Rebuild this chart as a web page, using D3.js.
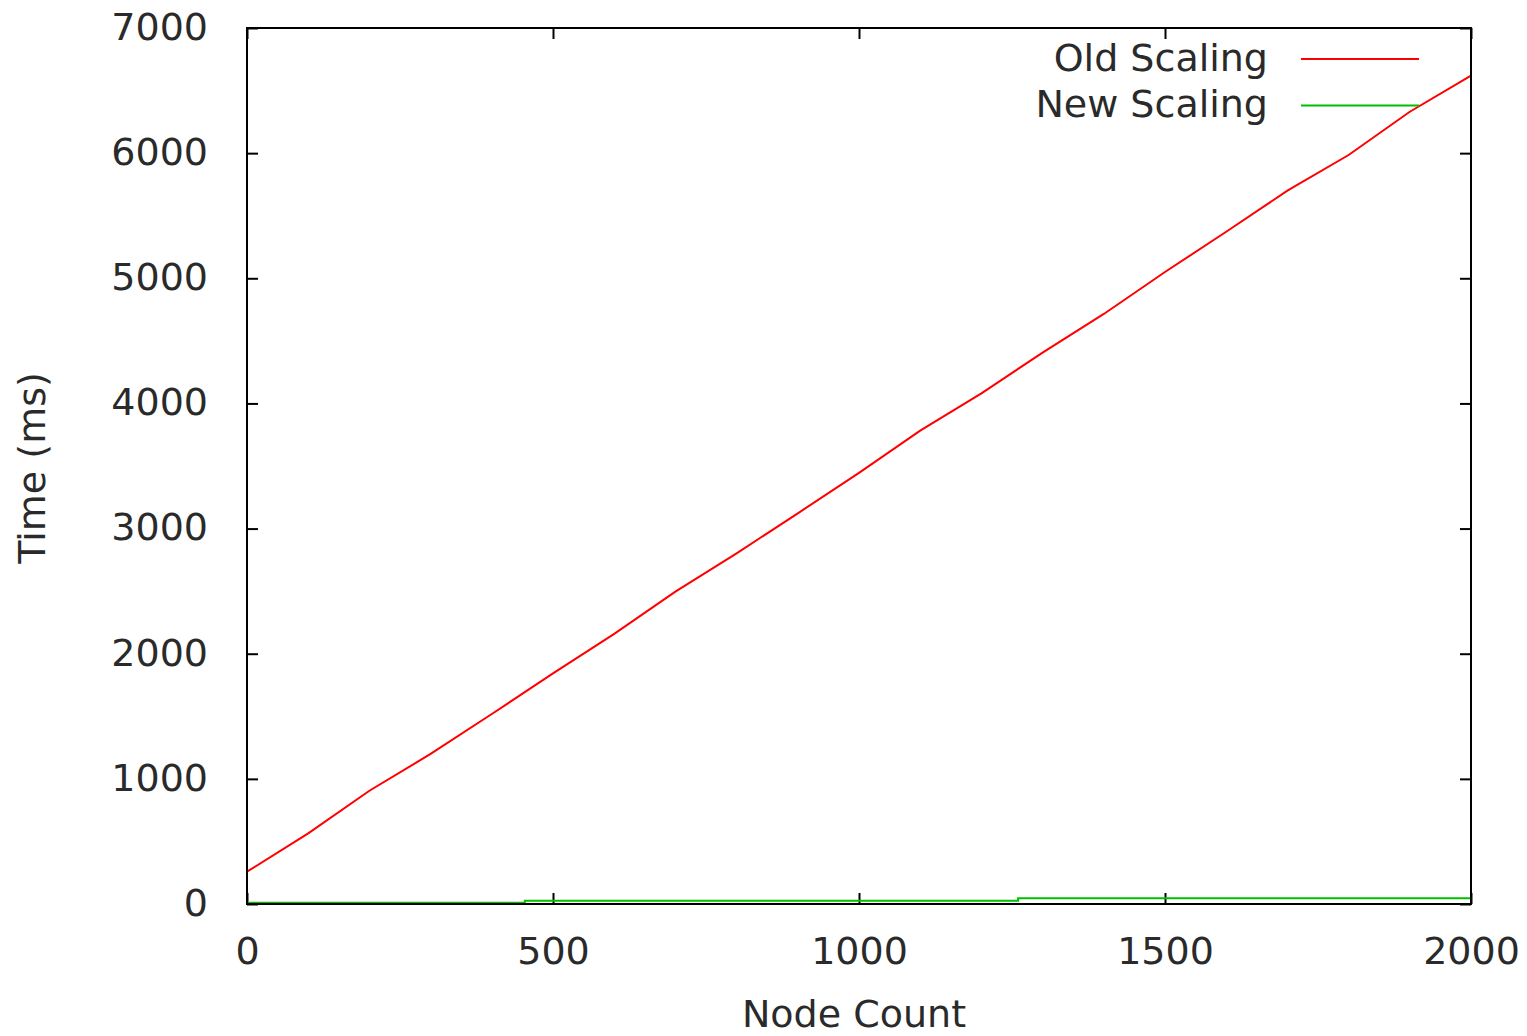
<!DOCTYPE html>
<html>
<head>
<meta charset="utf-8">
<script src="https://cdn.jsdelivr.net/npm/d3@7.9.0/dist/d3.min.js"></script>
<style>
  body { margin: 0; background: #fff; }
  svg text { font-family: "DejaVu Sans", sans-serif; fill: #2a2a2a; }
</style>
</head>
<body>
<svg width="1527" height="1036"></svg>
<script>
// node counts sampled along the x axis
const nodeCounts = [0, 100, 200, 300, 400, 500, 600, 700, 800, 900, 1000,
  1100, 1200, 1300, 1400, 1500, 1600, 1700, 1800, 1900, 2000];
// old scaling times (ms)
const oldTimes = [258, 565, 905, 1199, 1518, 1843, 2158, 2496, 2802, 3122, 3445,
  3782, 4081, 4406, 4715, 5050, 5372, 5700, 5985, 6331, 6620];
// new scaling is a step line near zero
const newNodes = [0, 454, 1260, 2000];
const newTimes = [10, 25, 45, 45];

const xTicks = [0, 500, 1000, 1500, 2000];
const yTicks = [0, 1000, 2000, 3000, 4000, 5000, 6000, 7000];
const seriesNames = ['Old Scaling', 'New Scaling'];
const seriesColors = ['#ff0000', '#00c000'];

const svg = d3.select('svg');
const x = d3.scaleLinear().domain([0, 2000]).range([247, 1471]);
const y = d3.scaleLinear().domain([0, 7000]).range([904, 28]);

const oldData = nodeCounts.map((n, i) => ({ n, t: oldTimes[i] }));
const newData = newNodes.map((n, i) => ({ n, t: newTimes[i] }));

const line = d3.line().x(d => x(d.n)).y(d => y(d.t));
const stepLine = d3.line().curve(d3.curveStepAfter).x(d => x(d.n)).y(d => y(d.t));
const fmt = d3.format('d');

// axes, ticks point inward
let bottom = svg.append('g').attr('transform', 'translate(0,904)')
  .call(d3.axisBottom(x).tickValues(xTicks).tickFormat(fmt).tickSizeInner(-11).tickSizeOuter(0));
bottom.selectAll('text').attr('y', 60).attr('dy', null);

let left = svg.append('g').attr('transform', 'translate(247,0)')
  .call(d3.axisLeft(y).tickValues(yTicks).tickFormat(fmt).tickSizeInner(-11).tickSizeOuter(0).tickPadding(39));
left.selectAll('text').attr('dy', '0.3em');

svg.append('g').attr('transform', 'translate(0,28)')
  .call(d3.axisTop(x).tickValues(xTicks).tickSizeInner(-11).tickSizeOuter(0).tickFormat(''));
svg.append('g').attr('transform', 'translate(1471,0)')
  .call(d3.axisRight(y).tickValues(yTicks).tickSizeInner(-11).tickSizeOuter(0).tickFormat(''));

svg.selectAll('.domain').remove();
svg.selectAll('.tick line').attr('stroke', '#000').attr('stroke-width', 2);
svg.selectAll('.tick text').attr('font-size', 38).attr('font-family', 'DejaVu Sans').attr('fill', '#2a2a2a');

// series
svg.append('path').datum(newData)
  .attr('d', stepLine).attr('fill', 'none')
  .attr('stroke', seriesColors[1]).attr('stroke-width', 2);
svg.append('path').datum(oldData)
  .attr('d', line).attr('fill', 'none')
  .attr('stroke', seriesColors[0]).attr('stroke-width', 2);

// border
svg.append('rect')
  .attr('x', x(0)).attr('y', y(7000))
  .attr('width', x(2000) - x(0)).attr('height', y(0) - y(7000))
  .attr('fill', 'none').attr('stroke', '#000').attr('stroke-width', 2);

// legend
seriesNames.forEach((name, i) => {
  const yy = 59 + i * 46.5;
  svg.append('text')
    .attr('x', 1268).attr('y', yy + 11.5)
    .attr('text-anchor', 'end').attr('font-size', 38)
    .text(name);
  svg.append('line')
    .attr('x1', 1301).attr('x2', 1419).attr('y1', yy).attr('y2', yy)
    .attr('stroke', seriesColors[i]).attr('stroke-width', 2);
});

// axis titles
svg.append('text')
  .attr('x', 854).attr('y', 1027)
  .attr('text-anchor', 'middle').attr('font-size', 38)
  .text('Node Count');
svg.append('text')
  .attr('transform', 'translate(45,468) rotate(-90)')
  .attr('text-anchor', 'middle').attr('font-size', 38)
  .text('Time (ms)');
</script>
</body>
</html>
